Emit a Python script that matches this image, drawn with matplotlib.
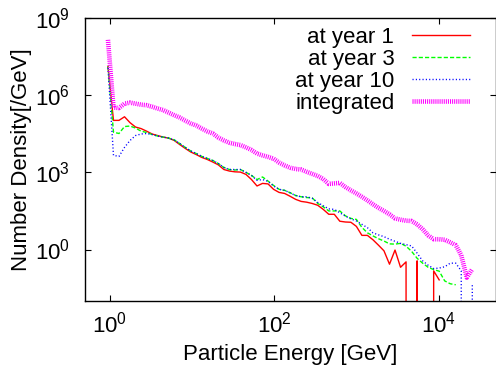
import numpy as np
import matplotlib
matplotlib.use('Agg')
import matplotlib.pyplot as plt

plt.rcParams['font.family'] = ['Liberation Sans', 'DejaVu Sans']
plt.rcParams['mathtext.fontset'] = 'custom'
plt.rcParams['mathtext.rm'] = 'Liberation Sans'
plt.rcParams['mathtext.it'] = 'Liberation Sans'
plt.rcParams['lines.scale_dashes'] = False

# bin energies [GeV]
energy = [0.951, 1.110, 1.295, 1.512, 1.765, 2.060, 2.405, 2.807, 3.277, 3.824,
          4.464, 5.211, 6.081, 7.099, 8.286, 9.672, 11.29, 13.18, 15.38, 17.95,
          20.96, 24.46, 28.55, 33.33, 38.90, 45.41, 53.00, 61.86, 72.22, 84.28,
          98.38, 114.8, 134.0, 156.4, 182.6, 213.2, 248.8, 290.4, 339.0, 395.7,
          461.8, 539.1, 629.2, 734.5, 857.3, 1000.7, 1168, 1363, 1591, 1857,
          2168, 2531, 2954, 3448, 4025, 4698, 5484, 6401, 7471, 8721,
          10180, 11880, 13870, 16190, 18890, 22060, 25740]

# log10 of number density, None = empty bin
log_year1 = [7.12, 5.02, 5.02, 5.16, 4.93, 4.76, 4.70, 4.60, 4.49, 4.43,
             4.37, 4.33, 4.24, 4.08, 3.93, 3.79, 3.69, 3.58, 3.50, 3.40,
             3.29, 3.11, 3.05, 3.02, 3.01, 2.92, 2.72, 2.47, 2.57, 2.55,
             2.34, 2.22, 2.18, 2.07, 1.95, 1.87, 1.84, 1.79, 1.72, 1.56,
             1.37, 1.37, 1.10, 1.07, 1.06, 0.90, 0.55, 0.55, 0.38, 0.17,
             -0.05, -0.57, -0.02, -0.69, -0.48, None, -0.44, None, None, -0.83,
             -1.18]
log_year3 = [7.12, 4.56, 4.51, 4.78, 4.80, 4.72, 4.60, 4.55, 4.47, 4.41,
             4.37, 4.33, 4.26, 4.12, 3.97, 3.83, 3.73, 3.62, 3.54, 3.46,
             3.34, 3.19, 3.11, 3.09, 3.11, 3.00, 2.88, 2.72, 2.82, 2.66,
             2.49, 2.34, 2.30, 2.21, 2.10, 2.05, 2.02, 2.01, 1.79, 1.66,
             1.50, 1.50, 1.50, 1.31, 1.21, 1.17, 0.86, 0.65, 0.53, 0.42,
             0.33, 0.22, 0.21, 0.24, 0.13, -0.07, -0.34, -0.53, -0.69, -0.78,
             -0.84, -1.22, -1.33, -1.37]
log_year10 = [7.07, 3.66, 3.62, 3.97, 4.24, 4.43, 4.49, 4.51, 4.47, 4.41,
              4.37, 4.33, 4.26, 4.12, 3.97, 3.83, 3.73, 3.62, 3.54, 3.46,
              3.34, 3.19, 3.11, 3.11, 3.11, 3.00, 2.88, 2.69, 2.72, 2.65,
              2.47, 2.34, 2.30, 2.20, 2.10, 2.05, 2.05, 1.99, 1.83, 1.70,
              1.58, 1.56, 1.43, 1.30, 1.19, 1.11, 0.98, 0.85, 0.65, 0.57,
              0.50, 0.40, 0.32, 0.24, 0.19, 0.14, -0.14, -0.44, -0.61, -0.74,
              -0.72, -0.67, -0.53, -0.53, -0.83, None, -1.34]
log_integrated = [8.15, 5.52, 5.50, 5.67, 5.71, 5.67, 5.63, 5.61, 5.55, 5.48,
                  5.42, 5.32, 5.22, 5.13, 5.01, 4.90, 4.82, 4.70, 4.59, 4.51,
                  4.35, 4.24, 4.15, 4.10, 4.06, 3.97, 3.87, 3.73, 3.66, 3.60,
                  3.53, 3.38, 3.27, 3.18, 3.13, 3.11, 3.02, 2.94, 2.86, 2.74,
                  2.55, 2.57, 2.59, 2.43, 2.30, 2.18, 2.05, 1.91, 1.76, 1.62,
                  1.50, 1.37, 1.21, 1.16, 1.12, 1.11, 0.98, 0.79, 0.55, 0.40,
                  0.40, 0.38, 0.28, 0.17, -0.22, -1.09, -0.76]

labels = ['at year 1', 'at year 3', 'at year 10', 'integrated']


def density(logs):
    return [0.0 if v is None else 10.0 ** v for v in logs]


fig = plt.figure(figsize=(4.96, 3.72), dpi=100)
ax = fig.add_axes([0.1714, 0.1909, 0.8286, 0.7608])

ax.plot(energy[:len(log_year1)], density(log_year1), color='#ff0000', lw=1.0,
        label=labels[0])
ax.plot(energy[:len(log_year3)], density(log_year3), color='#00ff00', lw=1.0,
        dashes=(3, 1.5), label=labels[1])
ax.plot(energy[:len(log_year10)], density(log_year10), color='#0000ff', lw=1.0,
        dashes=(0.8, 1.6), label=labels[2])
ax.plot(energy[:len(log_integrated)], density(log_integrated), color='#ff00ff',
        lw=3.3, dashes=(0.75, 0.75), label=labels[3])

ax.set_xscale('log')
ax.set_yscale('log')
ax.set_xlim(0.5, 5e4)
ax.set_ylim(1e-2, 1e9)
ax.set_xticks([1, 1e2, 1e4])
ax.set_yticks([1, 1e3, 1e6, 1e9])
ax.minorticks_off()
ax.tick_params(direction='in', length=4, width=0.8, top=True, right=True,
               labelsize=16)
ax.tick_params(axis='y', pad=11)
ax.tick_params(axis='x', pad=8)
for s in ax.spines.values():
    s.set_linewidth(1.0)

ax.set_xlabel('Particle Energy [GeV]', fontsize=16, labelpad=4)
ax.set_ylabel('Number Density[/GeV]', fontsize=16, labelpad=2)

ax.legend(loc='upper right', bbox_to_anchor=(0.958, 1.0), frameon=False,
          markerfirst=False, fontsize=16, handlelength=2.6, labelspacing=0.05,
          borderaxespad=0.0, handletextpad=0.8)

fig.savefig('out.png', dpi=100)
